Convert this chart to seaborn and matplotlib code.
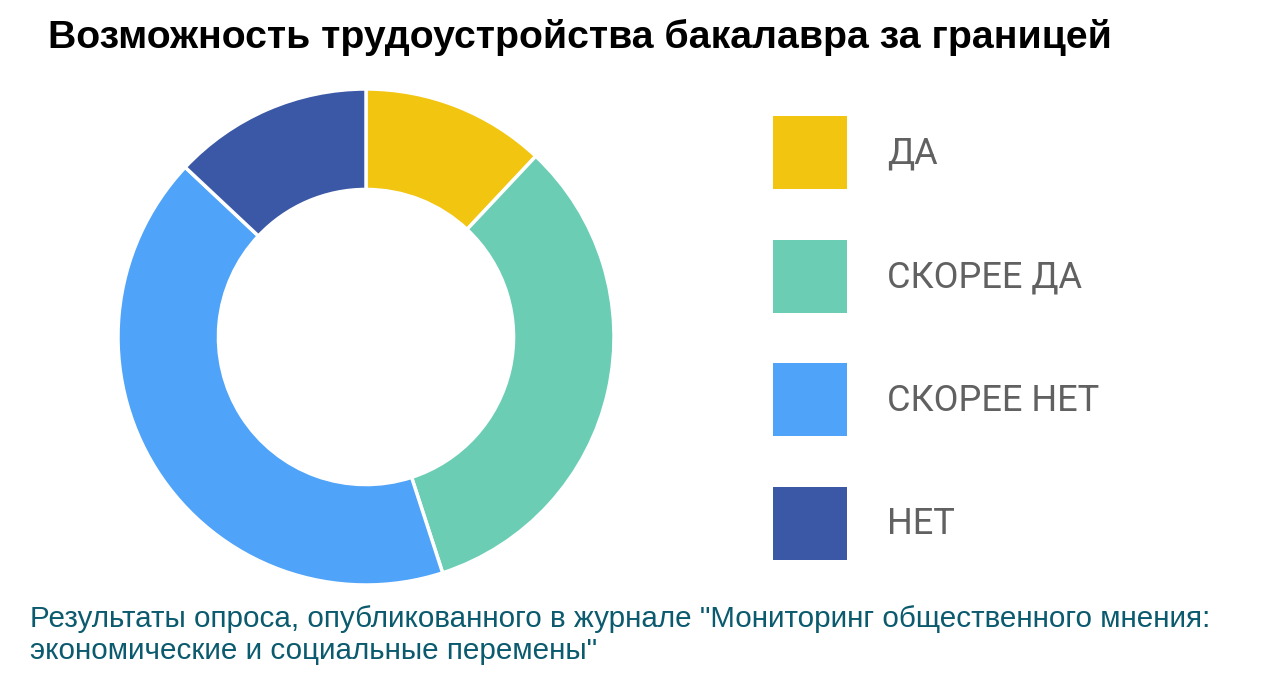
import matplotlib.pyplot as plt
import seaborn as sns
from matplotlib.patches import Patch

# survey answers, share of respondents (%)
answers = ["ДА", "СКОРЕЕ ДА", "СКОРЕЕ НЕТ", "НЕТ"]
shares = [12, 33, 42, 13]
colors = ["#F2C511", "#6BCDB4", "#4FA3F8", "#3B58A6"]

title = "Возможность трудоустройства бакалавра за границей"
source_lines = [
    'Результаты опроса, опубликованного в журнале "Мониторинг общественного мнения:',
    'экономические и социальные перемены"',
]

sns.set_theme(style="white")
plt.rcParams["font.family"] = ["Liberation Sans", "DejaVu Sans"]
palette = sns.color_palette(colors)

W, H = 1280, 686
fig = plt.figure(figsize=(W / 100, H / 100), dpi=100)
fig.patch.set_facecolor("white")

# donut: centre (366, 337), outer radius 248 px
ax = fig.add_axes([118 / W, 1 - 585 / H, 496 / W, 496 / H])
ax.pie(
    shares,
    colors=palette,
    startangle=90,
    counterclock=False,
    radius=1.0,
    wedgeprops=dict(width=0.405, edgecolor="white", linewidth=2.5),
)
ax.set_xlim(-1, 1)
ax.set_ylim(-1, 1)
ax.set_aspect("equal")
ax.axis("off")

# legend with big square swatches (74x73 px, ~124 px apart)
fs = 26
fs_px = fs * 100 / 72
hh = (73 / fs_px - 0.245) / 0.65
handles = [Patch(facecolor=c, edgecolor="none") for c in palette]
leg = fig.legend(
    handles,
    answers,
    loc="upper left",
    bbox_to_anchor=(773 / W, 1 - 116 / H),
    frameon=False,
    borderpad=0,
    borderaxespad=0,
    prop={"family": ["Roboto", "DejaVu Sans"], "size": fs},
    handlelength=74 / fs_px,
    handleheight=hh,
    handletextpad=40 / fs_px,
    labelspacing=(123.7 - 73) / fs_px,
)
for t in leg.get_texts():
    t.set_color("#616161")

fig.text(48 / W, 1 - 48 / H, title, fontsize=28.3, fontweight="bold",
         color="black", va="baseline", ha="left")
for i, line in enumerate(source_lines):
    fig.text(30 / W, 1 - (627 + 32 * i) / H, line, fontsize=21.3, color="#0B5A6E",
             va="baseline", ha="left")

fig.savefig("out.png", dpi=100, facecolor="white")
